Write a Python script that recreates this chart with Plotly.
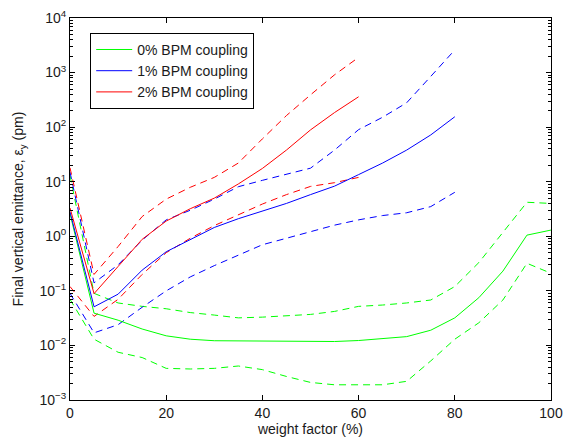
import numpy as np
import plotly.graph_objects as go

# weight factor (%) sampled every 5 %
w_full = [0, 5, 10, 15, 20, 25, 30, 35, 40, 45, 50, 55, 60, 65, 70, 75, 80, 85, 90, 95, 100]
w_80 = w_full[:17]
w_60 = w_full[:13]

# 0% BPM coupling: median and spread
g_mid = [2.6, 0.039, 0.029, 0.020, 0.015, 0.013, 0.0122, 0.0121, 0.0121, 0.012, 0.0117,
         0.0118, 0.0123, 0.0135, 0.0145, 0.019, 0.032, 0.075, 0.23, 1.05, 1.3]
g_hi = [13, 0.09, 0.06, 0.052, 0.047, 0.040, 0.036, 0.032, 0.033, 0.035, 0.037,
        0.042, 0.052, 0.055, 0.060, 0.068, 0.12, 0.33, 1.15, 4.2, 4.0]
g_lo = [0.07, 0.013, 0.0075, 0.006, 0.0038, 0.0037, 0.0038, 0.0042, 0.0036, 0.0027, 0.0021,
        0.0019, 0.0019, 0.0019, 0.0022, 0.0052, 0.013, 0.026, 0.068, 0.32, 0.21]

# 1% BPM coupling
b_mid = [2.8, 0.051, 0.087, 0.24, 0.52, 0.88, 1.45, 2.1, 2.9, 4.0, 5.8,
         8.3, 13.5, 22, 38, 72, 155]
b_hi = [15, 0.14, 0.3, 0.85, 2.0, 3.0, 4.8, 8.1, 10.6, 13.7, 17.7,
        38, 90, 152, 280, 850, 2600]
b_lo = [0.09, 0.017, 0.024, 0.05, 0.1, 0.18, 0.29, 0.45, 0.7, 0.92, 1.2,
        1.6, 2.0, 2.4, 2.7, 3.5, 6.4]

# 2% BPM coupling
r_mid = [3.3, 0.089, 0.28, 0.88, 1.9, 3.2, 5.0, 9.1, 17.5, 38, 89, 185, 360]
r_hi = [18, 0.2, 0.65, 2.3, 4.8, 7.9, 12, 22, 61, 163, 390, 910, 1900]
r_lo = [0.12, 0.034, 0.07, 0.2, 0.5, 0.92, 1.57, 2.5, 3.9, 5.8, 8.2, 9.6, 12]

# decade tick labels
y_exponents = [-3, -2, -1, 0, 1, 2, 3, 4]
y_tickvals = [10.0 ** e for e in y_exponents]
y_ticktext = ["10<sup>%s</sup>" % str(e).replace("-", "\u2212") for e in y_exponents]
x_tickvals = [0, 20, 40, 60, 80, 100]

series = [
    ("0% BPM coupling", "#00ff00", w_full, g_mid, g_hi, g_lo),
    ("1% BPM coupling", "#0000ff", w_80, b_mid, b_hi, b_lo),
    ("2% BPM coupling", "#ff0000", w_60, r_mid, r_hi, r_lo),
]

DASH = "7px,5px"
FONT = "Liberation Sans, Arial, sans-serif"
FS = 14

fig = go.Figure()
# dashed spread lines first, solid medians on top
for name, col, xs, mid, hi, lo in series:
    for ys in (hi, lo):
        fig.add_trace(go.Scatter(x=xs, y=ys, mode="lines", showlegend=False,
                                 line=dict(color=col, width=1, dash=DASH),
                                 hoverinfo="skip"))
for name, col, xs, mid, hi, lo in series:
    fig.add_trace(go.Scatter(x=xs, y=mid, mode="lines", name=name,
                             line=dict(color=col, width=1)))

minor_vals = [m * 10.0 ** e for e in range(-3, 4) for m in range(2, 10)]

fig.update_layout(
    width=566, height=441,
    margin=dict(l=70, r=15, t=18, b=41, autoexpand=False),
    paper_bgcolor="white", plot_bgcolor="white",
    font=dict(family=FONT, size=FS, color="#1a1a1a"),
    showlegend=True,
    legend=dict(x=0.042, y=0.961, xanchor="left", yanchor="top",
                bordercolor="black", borderwidth=1, bgcolor="white",
                font=dict(size=FS, family=FONT), tracegroupgap=0,
                itemwidth=36),
)
fig.update_xaxes(
    range=[0, 100], tickmode="array", tickvals=x_tickvals,
    title=dict(text="weight factor (%)", standoff=2, font=dict(size=FS)),
    showline=True, linecolor="black", linewidth=1, mirror="allticks",
    ticks="inside", ticklen=5, tickcolor="black",
    showgrid=False, zeroline=False, automargin=False,
)
fig.update_yaxes(
    type="log", range=[-3, 4], tickmode="array",
    tickvals=y_tickvals, ticktext=y_ticktext,
    title=dict(text="Final vertical emittance, ε<sub>y</sub> (pm)", standoff=12,
               font=dict(size=FS)),
    showline=True, linecolor="black", linewidth=1, mirror="allticks",
    ticks="inside", ticklen=5, tickcolor="black",
    minor=dict(tickmode="array", tickvals=minor_vals, ticks="inside",
               ticklen=3, tickcolor="black", showgrid=False),
    showgrid=False, zeroline=False, automargin=False,
)

fig.write_html("out.html")
